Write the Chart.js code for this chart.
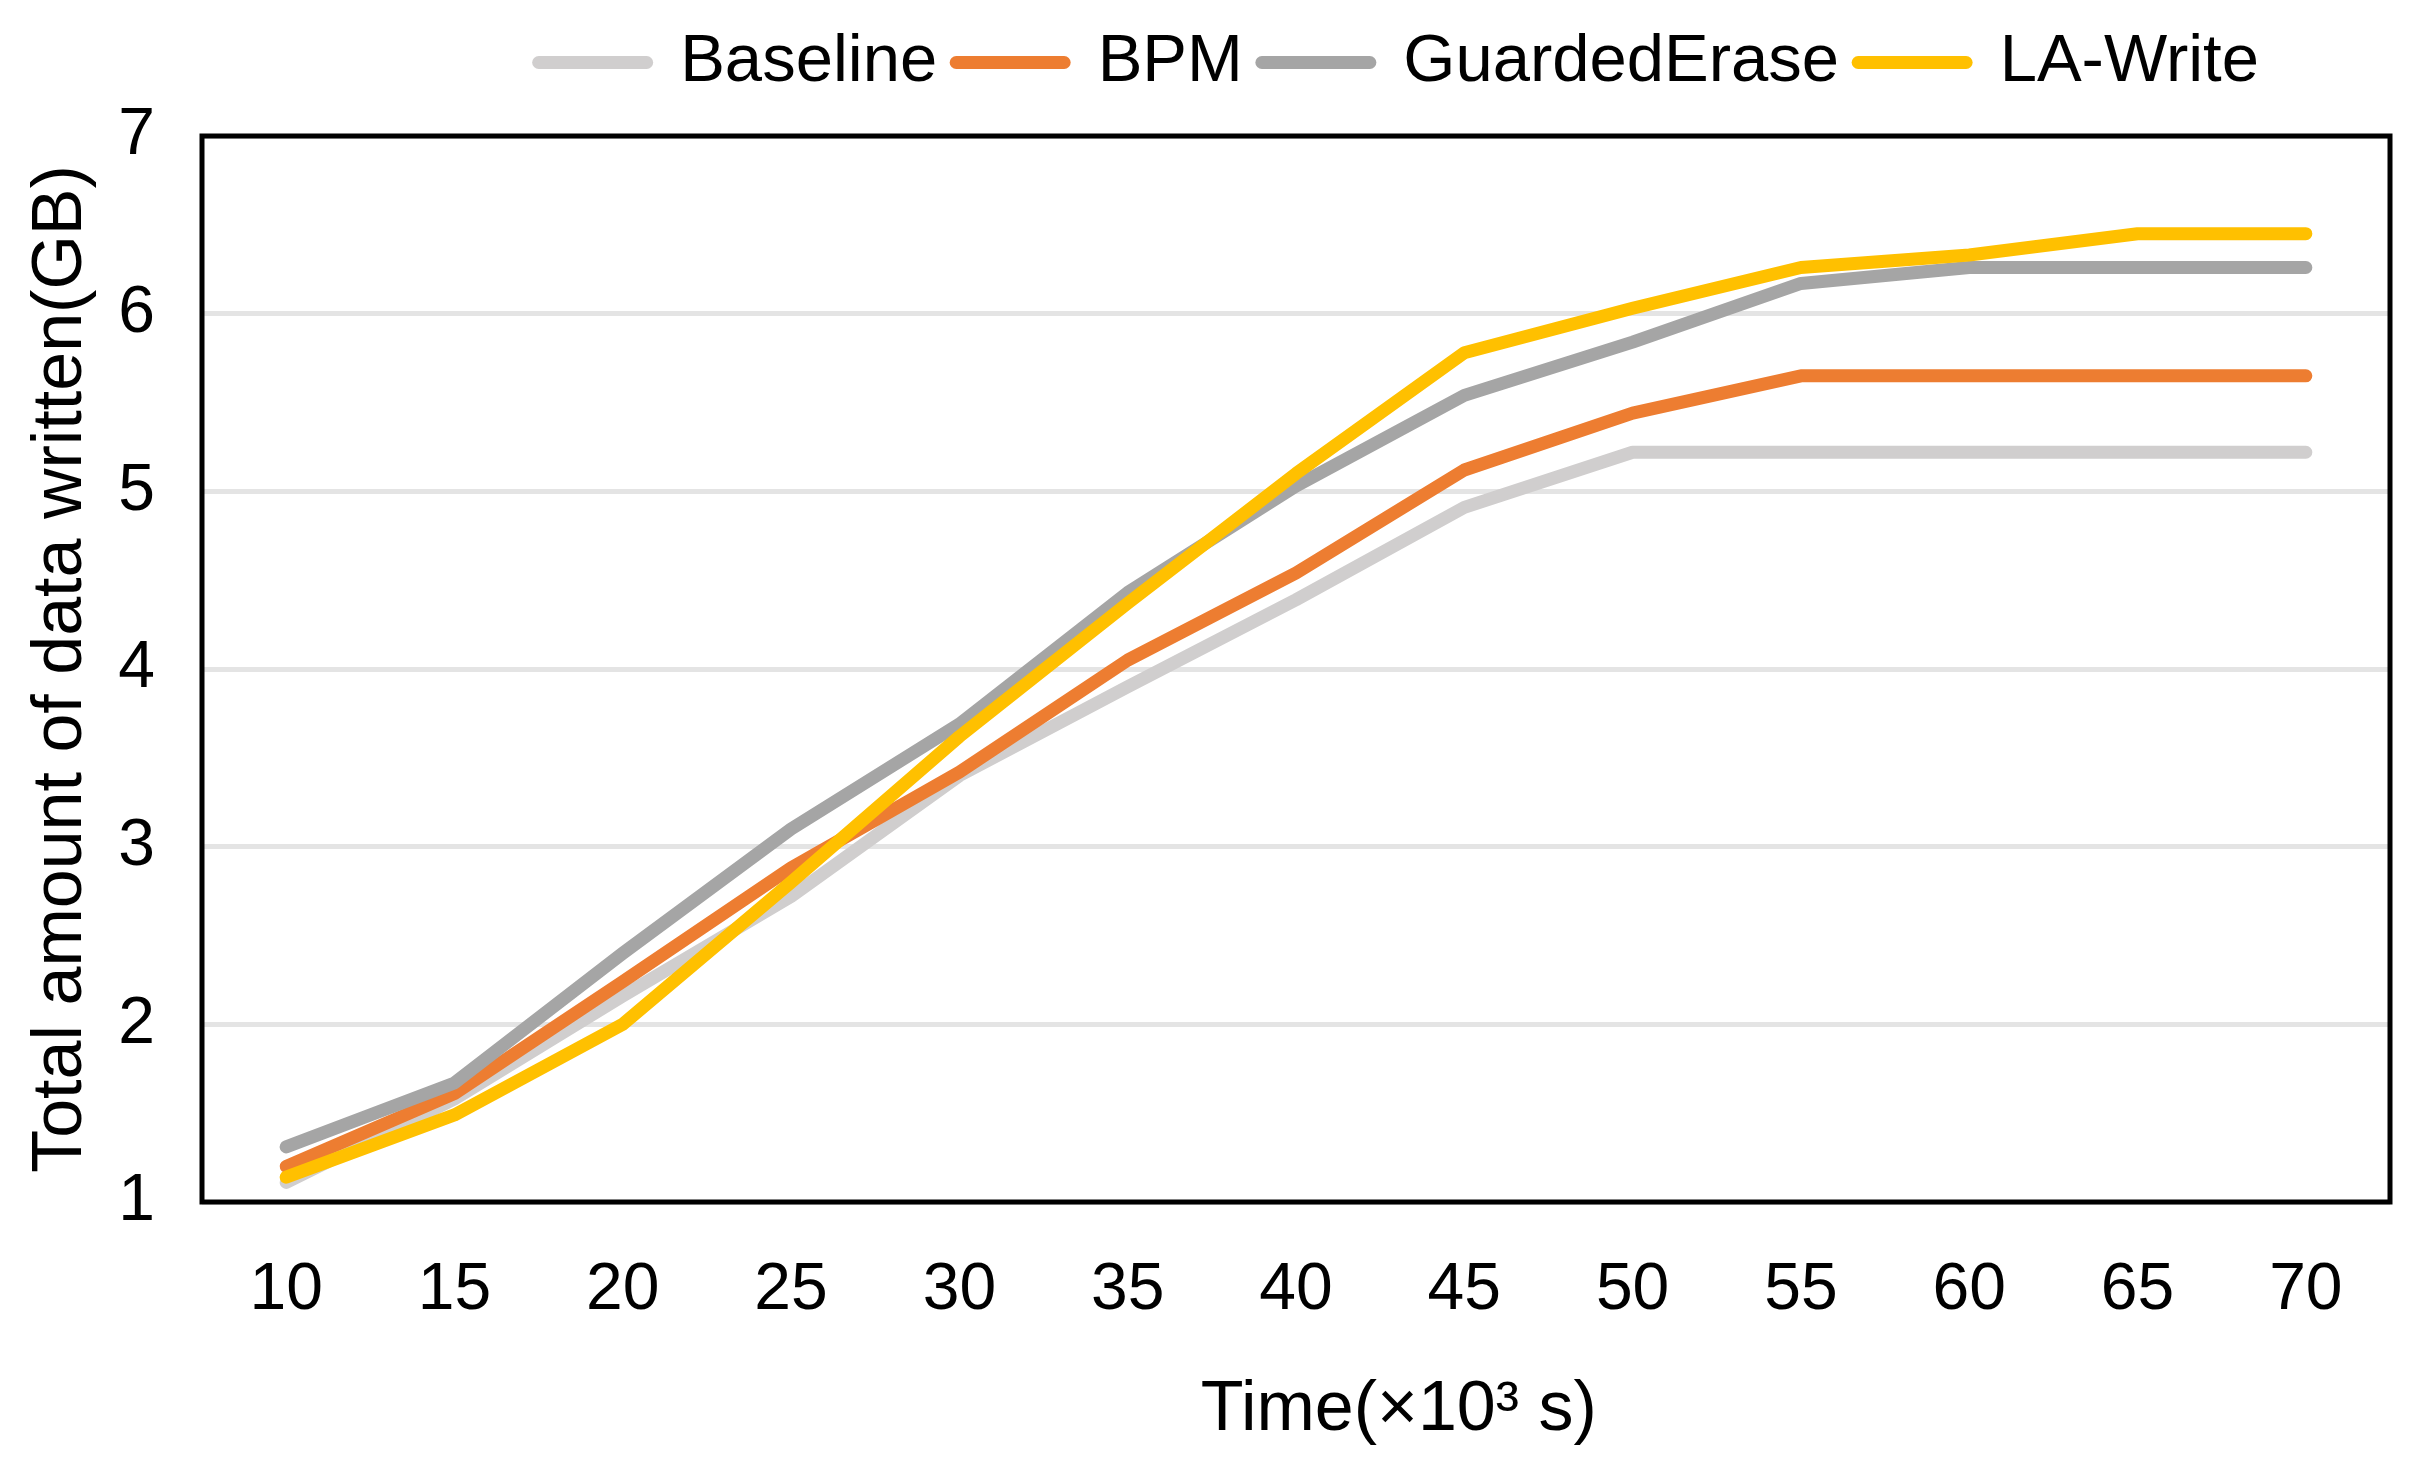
<!DOCTYPE html>
<html>
<head>
<meta charset="utf-8">
<script src="https://cdn.jsdelivr.net/npm/chart.js@4.4.1/dist/chart.umd.min.js"></script>
<style>
  html, body { margin: 0; padding: 0; background: #ffffff; }
  #wrap { width: 2426px; height: 1466px; }
</style>
</head>
<body>
<div id="wrap"><canvas id="c" width="2426" height="1466"></canvas></div>
<script>
// ---- data ----
const categories = ['10', '15', '20', '25', '30', '35', '40', '45', '50', '55', '60', '65', '70'];
const baseline     = [1.11, 1.58, 2.16, 2.72, 3.40, 3.90, 4.39, 4.91, 5.22, 5.22, 5.22, 5.22, 5.22];
const bpm          = [1.20, 1.61, 2.24, 2.88, 3.42, 4.05, 4.54, 5.12, 5.44, 5.65, 5.65, 5.65, 5.65];
const guardedErase = [1.31, 1.67, 2.40, 3.10, 3.69, 4.43, 5.03, 5.54, 5.84, 6.17, 6.26, 6.26, 6.26];
const laWrite      = [1.14, 1.49, 2.00, 2.80, 3.62, 4.37, 5.10, 5.78, 6.03, 6.26, 6.33, 6.45, 6.45];
const seriesNames  = ['Baseline', 'BPM', 'GuardedErase', 'LA-Write'];
const yTicks       = [1, 2, 3, 4, 5, 6, 7];
const xTitle = 'Time(\u00d710\u00b3 s)';
const yTitle = 'Total amount of data written(GB)';

// ---- styles ----
const colors = ['#d0cece', '#ed7d31', '#a5a5a5', '#ffc000'];
const FONT = "'Liberation Sans', Arial, Helvetica, sans-serif";
const FS = 66;       // tick labels
const FS_LEG = 67;   // legend
const FS_TITLE = 70; // axis titles
const LINE_W = 13;
const CENTER_FRAC = 0.547; // horizontal centre of legend and x title, as fraction of plot width
const Y_AXIS_WIDTH = 202;
const X_AXIS_HEIGHT = 264;

const plotBorder = {
  id: 'plotBorder',
  afterDatasetsDraw(chart) {
    const {ctx, chartArea: a} = chart;
    ctx.save();
    ctx.strokeStyle = '#000000';
    ctx.lineWidth = 5;
    ctx.strokeRect(a.left, a.top, a.right - a.left, a.bottom - a.top);
    ctx.restore();
  }
};

const placement = {
  id: 'placement',
  afterLayout(chart) {
    const a = chart.chartArea;
    const target = a.left + (a.right - a.left) * CENTER_FRAC;
    const lg = chart.legend;
    if (lg) {
      const dx = target - (lg.left + lg.right) / 2;
      lg.left += dx; lg.right += dx;
      lg.top -= 30; lg.bottom -= 30;
    }
    const xs = chart.scales.x;
    if (xs && !xs._wrappedTitle) {
      const orig = xs.drawTitle;
      xs.drawTitle = function () {
        const ca = this.chart.chartArea;
        const shift = ca.left + (ca.right - ca.left) * CENTER_FRAC - (this.left + this.right) / 2;
        this.ctx.save();
        this.ctx.translate(shift, 0);
        orig.apply(this, arguments);
        this.ctx.restore();
      };
      xs._wrappedTitle = true;
    }
  }
};

const seriesData = [baseline, bpm, guardedErase, laWrite];
const datasets = seriesNames.map((name, i) => ({
  label: name,
  data: seriesData[i],
  borderColor: colors[i],
  backgroundColor: colors[i],
  borderWidth: LINE_W,
  borderCapStyle: 'round',
  borderJoinStyle: 'round',
  pointRadius: 0,
  pointHoverRadius: 0,
  pointStyle: 'line',
  tension: 0,
  fill: false,
  order: seriesNames.length - i
}));

new Chart(document.getElementById('c'), {
  type: 'line',
  data: { labels: categories, datasets },
  plugins: [plotBorder, placement],
  options: {
    responsive: false,
    devicePixelRatio: 1,
    animation: false,
    layout: { padding: { top: 40, right: 36, bottom: 0, left: 0 } },
    plugins: {
      tooltip: { enabled: false },
      legend: {
        position: 'top',
        align: 'center',
        labels: {
          usePointStyle: true,
          pointStyleWidth: 108,
          padding: 19,
          color: '#000000',
          font: { family: FONT, size: FS_LEG },
          sort: (a, b) => a.datasetIndex - b.datasetIndex,
          generateLabels: (chart) =>
            Chart.defaults.plugins.legend.labels.generateLabels(chart).map(item => ({
              ...item, lineCap: 'round', lineWidth: LINE_W,
              strokeStyle: colors[item.datasetIndex], fillStyle: colors[item.datasetIndex]
            }))
        }
      }
    },
    scales: {
      x: {
        type: 'category',
        offset: true,
        afterFit: (s) => { s.height = X_AXIS_HEIGHT; },
        grid: { display: false, drawTicks: false },
        border: { display: false },
        ticks: { color: '#000000', font: { family: FONT, size: FS }, padding: 49, maxRotation: 0 },
        title: {
          display: true, text: xTitle, color: '#000000',
          font: { family: FONT, size: FS_TITLE },
          padding: { top: 45, bottom: 13 }
        }
      },
      y: {
        min: yTicks[0],
        max: yTicks[yTicks.length - 1],
        afterFit: (s) => { s.width = Y_AXIS_WIDTH; },
        afterBuildTicks: (scale) => { scale.ticks = yTicks.map(v => ({ value: v })); },
        grid: { color: '#e4e4e4', lineWidth: 5, drawTicks: false },
        border: { display: false },
        ticks: { color: '#000000', font: { family: FONT, size: FS }, padding: 47 },
        title: {
          display: true, text: yTitle, color: '#000000',
          font: { family: FONT, size: FS_TITLE },
          padding: { top: 20, bottom: 19 }
        }
      }
    }
  }
});
</script>
</body>
</html>
